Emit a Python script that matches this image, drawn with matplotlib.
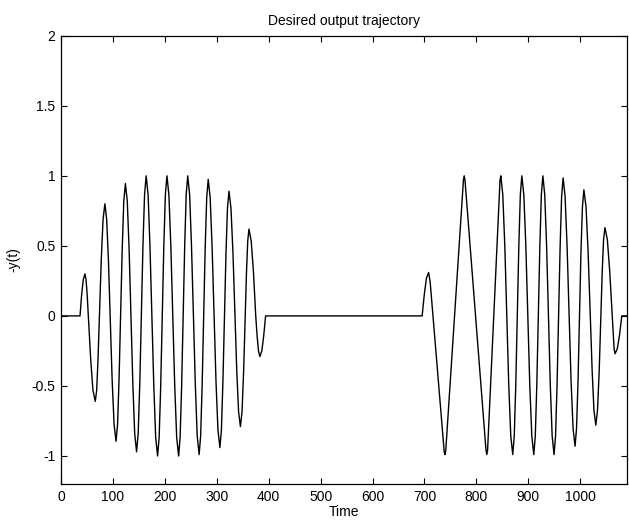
import numpy as np
import matplotlib
matplotlib.use('Agg')
import matplotlib.pyplot as plt

# Points (time, value)
# first burst, with the leading flat part
burst1_t = [0, 36.6, 39.7, 42.9, 46,
            48.2, 50.4, 52.6, 57.1, 61.5, 66,
            68.7, 71.3, 74, 77.5, 81, 84.5,
            87.9, 91.3, 94.65, 98.4, 102.2, 106,
            108.9, 111.8, 114.75, 117.8, 120.9, 124,
            127.6, 131.2, 134.75, 138.3, 141.9, 145.5,
            148.6, 151.7, 154.75, 157.8, 160.9, 164,
            167.7, 171.3, 175, 178.7, 182.3, 186,
            189, 192, 195, 198, 201, 204,
            207.75, 211.5, 215.25, 219, 222.75, 226.5,
            229.4, 232.3, 235.25, 238.2, 241.1, 244,
            247.7, 251.3, 255, 258.7, 262.3, 266,
            268.9, 271.8, 274.75, 277.7, 280.6, 283.5,
            287.25, 291, 294.75, 298.5, 302.25, 306,
            308.9, 311.8, 314.75, 317.7, 320.6, 323.5,
            327.3, 331.2, 335, 338.5, 342, 345.5,
            348.6, 351.7, 354.75, 357.2, 359.6, 362,
            366.3, 370.7, 375, 377.7, 380.3, 383,
            386.7, 390.3, 394]
burst1_y = [0, 0, 0.15, 0.26, 0.30,
            0.26, 0.15, 0, -0.305, -0.53, -0.61,
            -0.53, -0.305, 0, 0.40, 0.69, 0.80,
            0.69, 0.40, 0, -0.45, -0.775, -0.895,
            -0.775, -0.45, 0, 0.47, 0.82, 0.945,
            0.82, 0.47, 0, -0.485, -0.84, -0.97,
            -0.84, -0.485, 0, 0.5, 0.866, 1.0,
            0.866, 0.5, 0, -0.5, -0.866, -1.0,
            -0.866, -0.5, 0, 0.5, 0.866, 1.0,
            0.866, 0.5, 0, -0.5, -0.866, -1.0,
            -0.866, -0.5, 0, 0.5, 0.866, 1.0,
            0.866, 0.5, 0, -0.495, -0.857, -0.99,
            -0.857, -0.495, 0, 0.49, 0.845, 0.975,
            0.845, 0.49, 0, -0.47, -0.815, -0.94,
            -0.815, -0.47, 0, 0.445, 0.77, 0.89,
            0.77, 0.445, 0, -0.395, -0.685, -0.79,
            -0.685, -0.395, 0, 0.31, 0.535, 0.62,
            0.535, 0.31, 0, -0.145, -0.25, -0.29,
            -0.25, -0.145, 0]

# second burst, with the trailing flat part
burst2_t = [695.5, 699.7, 703.8, 708, 711,
            738, 739.5, 741,
            775, 776.5, 778,
            818.5, 820, 821.5,
            845.5, 847,
            850.8, 854.7, 858.5, 862.3, 866.2, 870,
            872.9, 875.8, 878.75, 881.7, 884.6, 887.5,
            891.3, 895.2, 899, 902.8, 906.7, 910.5,
            913.4, 916.3, 919.25, 922.2, 925.1, 928,
            931.6, 935.2, 938.75, 942.3, 945.9, 949.5,
            952.4, 955.3, 958.25, 961.2, 964.1, 967,
            970.8, 974.7, 978.5, 982.3, 986.2, 990,
            992.8, 995.7, 998.5, 1001.3, 1004.2, 1007,
            1011.1, 1015.2, 1019.3, 1022.9, 1026.4, 1030,
            1033.2, 1036.5, 1039.7, 1042.3, 1044.9, 1047.5,
            1052.2, 1056.8, 1061.5, 1063.3, 1065.2, 1067,
            1071.3, 1075.7, 1080, 1090]
burst2_y = [0, 0.155, 0.27, 0.31, 0.24,
            -0.97, -0.99, -0.96,
            0.97, 1.0, 0.97,
            -0.96, -0.99, -0.96,
            0.97, 1.0,
            0.866, 0.5, 0, -0.495, -0.857, -0.99,
            -0.857, -0.495, 0, 0.5, 0.866, 1.0,
            0.866, 0.5, 0, -0.495, -0.857, -0.99,
            -0.857, -0.495, 0, 0.5, 0.866, 1.0,
            0.866, 0.5, 0, -0.495, -0.857, -0.99,
            -0.857, -0.495, 0, 0.49, 0.853, 0.985,
            0.853, 0.49, 0, -0.465, -0.805, -0.93,
            -0.805, -0.465, 0, 0.45, 0.78, 0.90,
            0.78, 0.45, 0, -0.39, -0.675, -0.78,
            -0.675, -0.39, 0, 0.315, 0.545, 0.63,
            0.545, 0.315, 0, -0.135, -0.235, -0.27,
            -0.235, -0.135, 0, 0]

xticks = [0, 100, 200, 300, 400, 500, 600, 700, 800, 900, 1000]
yticks = [-1, -0.5, 0, 0.5, 1, 1.5, 2]
yticklabels = ['-1', '-0.5', '0', '0.5', '1', '1.5', '2']

plt.rcParams['font.family'] = ['Liberation Sans', 'DejaVu Sans']
plt.rcParams['axes.unicode_minus'] = False

t = np.array(burst1_t + burst2_t)
y = np.array(burst1_y + burst2_y)

fig = plt.figure(figsize=(6.29, 5.21), dpi=100)
ax = fig.add_axes([0.097, 0.071, 0.8998, 0.8604])
ax.plot(t, y, color='black', linewidth=1.0)

ax.set_xlim(0, 1090)
ax.set_ylim(-1.2, 2)
ax.set_xticks(xticks)
ax.set_xticklabels([str(v) for v in xticks])
ax.set_yticks(yticks)
ax.set_yticklabels(yticklabels)
ax.tick_params(direction='in', length=4, width=0.8, top=True, right=True,
               labelsize=10, pad=4)
for s in ax.spines.values():
    s.set_linewidth(0.9)

ax.set_title('Desired output trajectory', fontsize=10, pad=8)
ax.set_xlabel('Time', fontsize=10, labelpad=1)
ax.set_ylabel('-y(t)', fontsize=10, labelpad=8)

fig.savefig('out.png', dpi=100)
